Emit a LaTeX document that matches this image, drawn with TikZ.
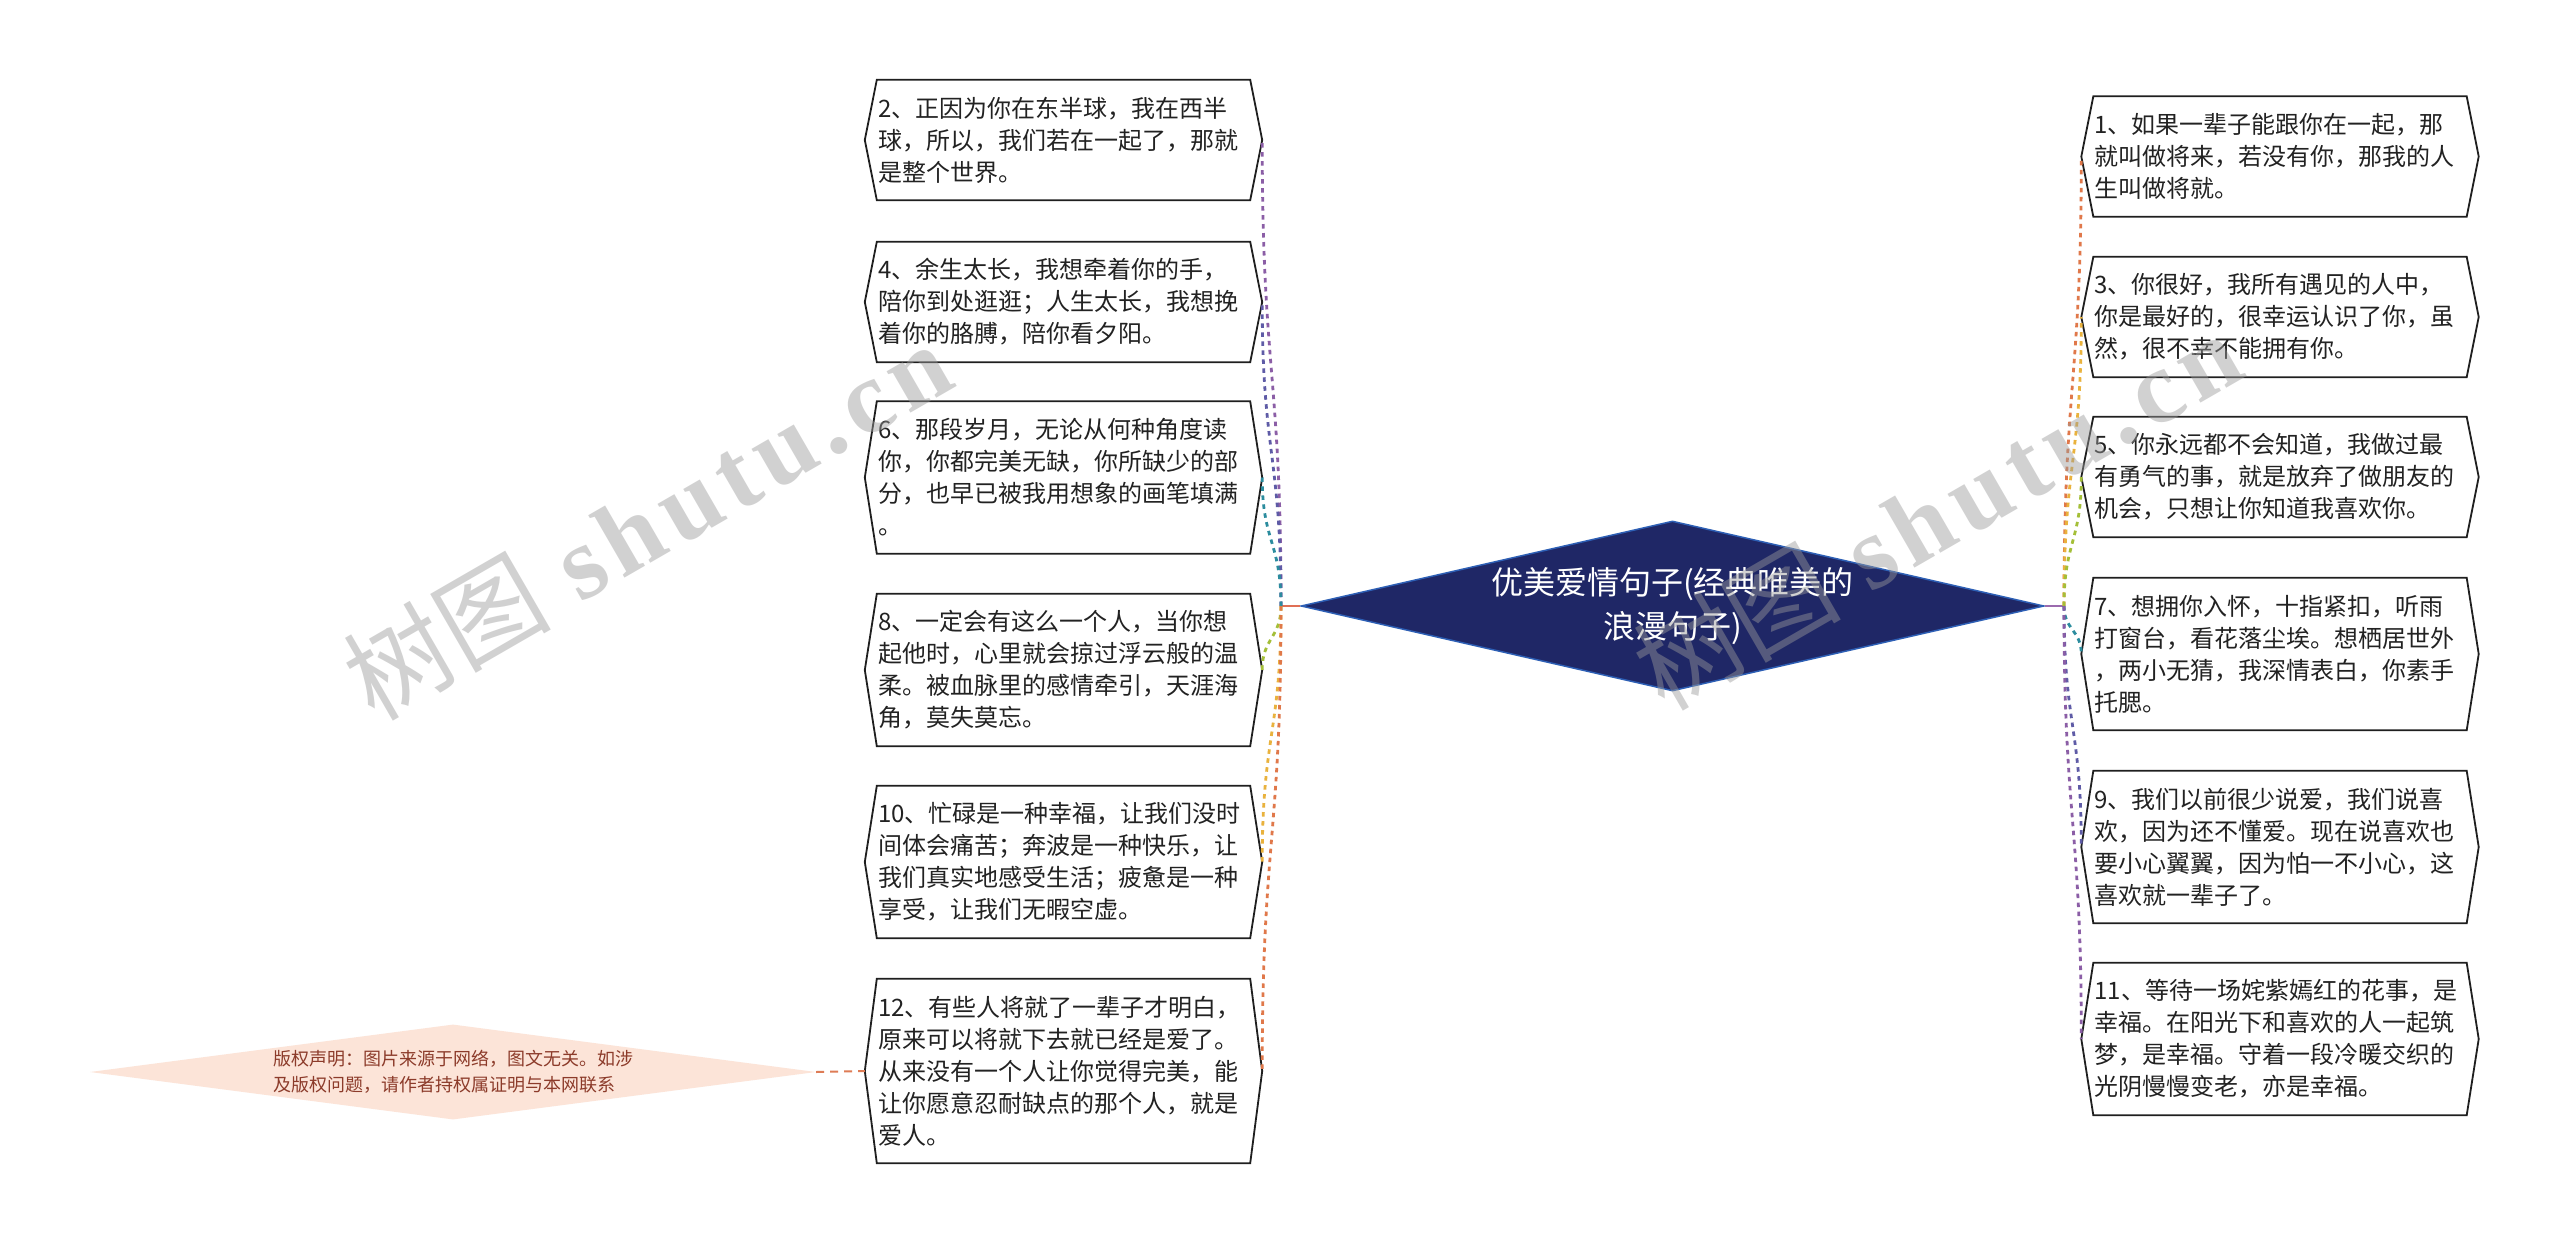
\documentclass[tikz,border=0pt]{standalone}
\usepackage{fontspec}
\setmainfont{Noto Sans CJK SC}
\newfontfamily\wmcjk{Noto Sans CJK SC}
\newfontfamily\wmlat[LetterSpace=8]{Liberation Serif}
\usetikzlibrary{shapes.geometric,calc}
\definecolor{cPur}{HTML}{8B5EA6}
\definecolor{cInd}{HTML}{5E5BA6}
\definecolor{cTeal}{HTML}{2B8C9E}
\definecolor{cOlive}{HTML}{A4BF38}
\definecolor{cGold}{HTML}{E9B23D}
\definecolor{cOrange}{HTML}{E0784A}
\definecolor{cRootL}{HTML}{E06F55}
\definecolor{cRootR}{HTML}{9B6AAE}
\definecolor{rootfill}{HTML}{1F2766}
\definecolor{rootdraw}{HTML}{2D5FB5}
\definecolor{crfill}{HTML}{FCE4D8}
\definecolor{crtext}{HTML}{8C3B2A}
\definecolor{crline}{HTML}{DE7C56}
\definecolor{wmgray}{HTML}{9A9A9A}
\definecolor{boxtextc}{HTML}{222222}
\tikzset{
  boxtext/.style={inner sep=0pt, text width=371pt, minimum width=373pt, align=left,
    font=\fontsize{24}{32}\selectfont, text=boxtextc},
  boxline/.style={draw=black!88, line width=1.8pt},
  conn/.style={line width=2.8pt, dash pattern=on 4.5pt off 4.5pt},
  wm/.style={inner sep=0pt, font=\fontsize{104}{104}\selectfont, text=wmgray, text opacity=0.45},
}
\newcommand\hexbox[5]{%
  \node[boxtext, minimum height=#4pt] (#1) at (#2,#3) {#5};
  \coordinate (#1-L) at ($(#1.west)+(-12,0)$);
  \coordinate (#1-R) at ($(#1.east)+(12,0)$);
  \draw[boxline] (#1.north west) -- (#1.north east) -- (#1-R) -- (#1.south east)
    -- (#1.south west) -- (#1-L) -- cycle;
}
\newcommand\conn[3]{%
  \coordinate (cm) at ($(#2)!0.5!(#3)$);
  \draw[conn, #1] (#2) .. controls (#2 |- cm) and (#3 |- cm) .. (#3);
}
\begin{document}
\begin{tikzpicture}[x=1pt,y=-1pt]
\useasboundingbox[fill=white] (0,0) rectangle (2560,1244);

% left nodes
\hexbox{n2}{1063.5}{140}{120}{2、正因为你在东半球，我在西半\\球，所以，我们若在一起了，那就\\是整个世界。}
\hexbox{n4}{1063.5}{302}{120}{4、余生太长，我想牵着你的手，\\陪你到处逛逛；人生太长，我想挽\\着你的胳膊，陪你看夕阳。}
\hexbox{n6}{1063.5}{477.5}{152}{6、那段岁月，无论从何种角度读\\你，你都完美无缺，你所缺少的部\\分，也早已被我用想象的画笔填满\\。}
\hexbox{n8}{1063.5}{670}{152}{8、一定会有这么一个人，当你想\\起他时，心里就会掠过浮云般的温\\柔。被血脉里的感情牵引，天涯海\\角，莫失莫忘。}
\hexbox{n10}{1063.5}{862}{152}{10、忙碌是一种幸福，让我们没时\\间体会痛苦；奔波是一种快乐，让\\我们真实地感受生活；疲惫是一种\\享受，让我们无暇空虚。}
\hexbox{n12}{1063.5}{1071}{184}{12、有些人将就了一辈子才明白，\\原来可以将就下去就已经是爱了。\\从来没有一个人让你觉得完美，能\\让你愿意忍耐缺点的那个人，就是\\爱人。}

% right nodes
\hexbox{n1}{2280}{156.5}{120}{1、如果一辈子能跟你在一起，那\\就叫做将来，若没有你，那我的人\\生叫做将就。}
\hexbox{n3}{2280}{317}{120}{3、你很好，我所有遇见的人中，\\你是最好的，很幸运认识了你，虽\\然，很不幸不能拥有你。}
\hexbox{n5}{2280}{477}{120}{5、你永远都不会知道，我做过最\\有勇气的事，就是放弃了做朋友的\\机会，只想让你知道我喜欢你。}
\hexbox{n7}{2280}{654}{152}{7、想拥你入怀，十指紧扣，听雨\\打窗台，看花落尘埃。想栖居世外\\，两小无猜，我深情表白，你素手\\托腮。}
\hexbox{n9}{2280}{847}{152}{9、我们以前很少说爱，我们说喜\\欢，因为还不懂爱。现在说喜欢也\\要小心翼翼，因为怕一不小心，这\\喜欢就一辈子了。}
\hexbox{n11}{2280}{1039}{152}{11、等待一场姹紫嫣红的花事，是\\幸福。在阳光下和喜欢的人一起筑\\梦，是幸福。守着一段冷暖交织的\\光阴慢慢变老，亦是幸福。}

% root
\node[shape=diamond, shape aspect=4.37, fill=rootfill, draw=rootdraw, line width=1.5pt,
  minimum width=743pt, minimum height=170pt, inner sep=0pt, text=white, align=center,
  font=\fontsize{32}{44}\selectfont] (root) at (1672.5,606) {优美爱情句子(经典唯美的\\浪漫句子)};

\coordinate (JL) at (1281,606);
\coordinate (JR) at (2064,606);
\draw[line width=2pt, cRootL] (JL) -- (root.west);
\draw[line width=2pt, cRootR] (root.east) -- (JR);

% connectors left
\conn{cPur}{JL}{n2-R}
\conn{cInd}{JL}{n4-R}
\conn{cTeal}{JL}{n6-R}
\conn{cOlive}{JL}{n8-R}
\conn{cGold}{JL}{n10-R}
\conn{cOrange}{JL}{n12-R}
% connectors right
\conn{cOrange}{JR}{n1-L}
\conn{cGold}{JR}{n3-L}
\conn{cOlive}{JR}{n5-L}
\conn{cTeal}{JR}{n7-L}
\conn{cInd}{JR}{n9-L}
\conn{cPur}{JR}{n11-L}

% copyright
\node[shape=diamond, shape aspect=7.6, fill=crfill, minimum width=726pt, minimum height=95pt,
  inner sep=0pt, text=crtext, align=left, font=\fontsize{18}{26}\selectfont] (cr) at (453,1072)
  {版权声明：图片来源于网络，图文无关。如涉\\及版权问题，请作者持权属证明与本网联系};
\draw[crline, line width=2pt, dash pattern=on 8pt off 6pt] (cr.east) -- (n12-L);

% watermarks
\node[wm, rotate=30] (wm1) at (647,520) {{\wmcjk 树图}\hspace{30pt}{\wmlat\bfseries shutu.cn}};
\node[wm, rotate=30] (wm2) at (1937,510) {{\wmcjk 树图}\hspace{30pt}{\wmlat\bfseries shutu.cn}};
\end{tikzpicture}
\end{document}
